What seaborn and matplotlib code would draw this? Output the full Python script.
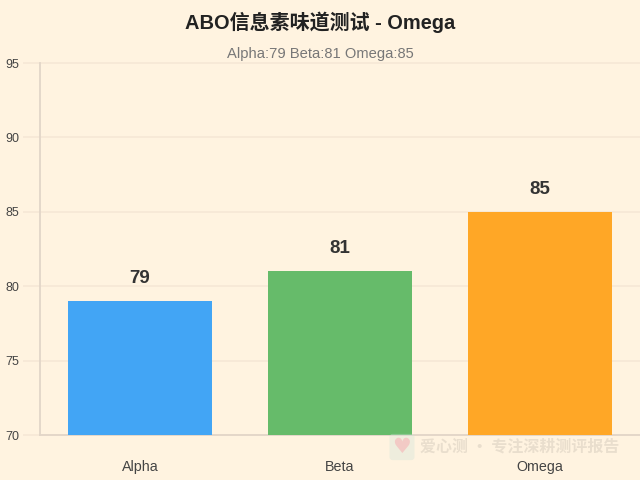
import matplotlib
matplotlib.use('Agg')
import matplotlib.pyplot as plt
import pandas as pd
import seaborn as sns

categories = ['Alpha', 'Beta', 'Omega']
scores = [79, 81, 85]
bar_colors = ['#42A5F5', '#66BB6A', '#FFA726']
y_ticks = [70, 75, 80, 85, 90, 95]

title = 'ABO信息素味道测试 - Omega'
subtitle = 'Alpha:79 Beta:81 Omega:85'
watermark = '爱心测 · 专注深耕测评报告'

bg = '#FFF3E0'
grid_color = '#F6E8D6'
axis_color = '#E2D6C8'

sns.set_theme(style='white')
plt.rcParams['font.family'] = ['Liberation Sans', 'Noto Sans CJK SC', 'DejaVu Sans']

data = pd.DataFrame({'category': categories, 'score': scores})

fig = plt.figure(figsize=(6.4, 4.8), dpi=100, facecolor=bg)
ax = fig.add_axes([40 / 640, 1 - 435 / 480, 600 / 640, 372 / 480], facecolor=bg)

sns.barplot(
    data=data,
    x='category',
    y='score',
    hue='category',
    palette=bar_colors,
    legend=False,
    width=0.72,
    saturation=1,
    linewidth=0,
    zorder=3,
    ax=ax
)

ax.set_xlim(-0.5, 2.5)
ax.set_ylim(70, 95)
ax.set_yticks(y_ticks)
ax.set_xlabel('')
ax.set_ylabel('')

ax.grid(axis='y', color=grid_color, linewidth=1.2, zorder=0)
ax.grid(axis='x', visible=False)
for line in ax.yaxis.get_gridlines():
    line.set_clip_on(False)
ax.tick_params(axis='y', length=12, width=1.2, color=grid_color, pad=3,
               labelsize=9, labelcolor='#444444', left=True)
ax.tick_params(axis='x', length=0, pad=18, labelsize=10.3, labelcolor='#444444')

for side in ['top', 'right']:
    ax.spines[side].set_visible(False)
for side in ['left', 'bottom']:
    ax.spines[side].set_color(axis_color)
    ax.spines[side].set_linewidth(1.3)

for i, value in enumerate(scores):
    ax.annotate(str(value), (i, value), xytext=(0, 10), textcoords='offset points',
                ha='center', va='bottom', fontsize=13.5, fontweight='bold',
                color='#333333', zorder=5)

fig.text(0.5, 1 - 22 / 480, title, ha='center', va='center', fontsize=14.4,
         fontweight='bold', color='#222222')
fig.text(0.5, 1 - 54 / 480, subtitle, ha='center', va='center', fontsize=10.6,
         color='#777777')

# faint watermark bottom right
fig.text(402 / 640, 1 - 447 / 480, '♥', ha='center', va='center', fontsize=15,
         color='#F8A0A8', alpha=0.45, family='DejaVu Sans',
         bbox=dict(boxstyle='round,pad=0.15', facecolor='#CFE3D8', edgecolor='none', alpha=0.35))
fig.text(420 / 640, 1 - 447 / 480, watermark, ha='left', va='center', fontsize=11.5,
         fontweight='bold', color='#C9BFB2', alpha=0.4, family=['Noto Sans CJK SC', 'DejaVu Sans'])

fig.savefig('out.png', dpi=100, facecolor=bg)
